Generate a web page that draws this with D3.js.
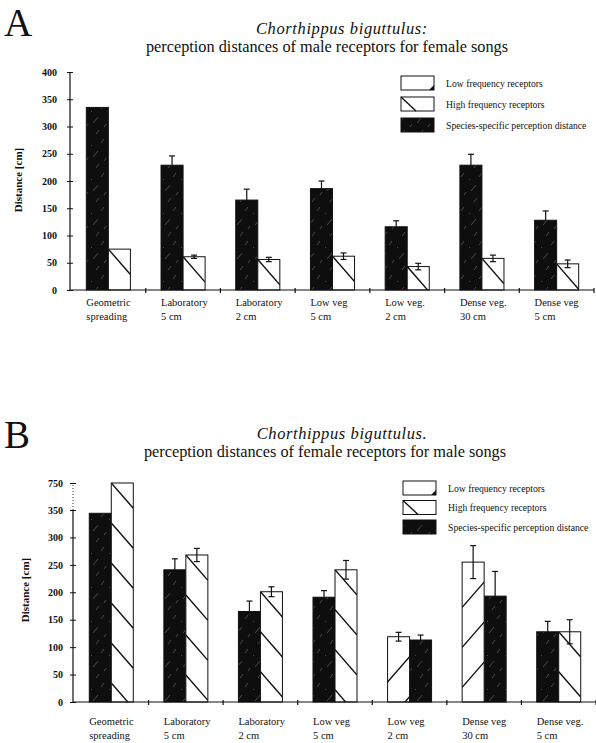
<!DOCTYPE html>
<html>
<head>
<meta charset="utf-8">
<script src="https://cdn.jsdelivr.net/npm/d3@7"></script>
<style>
  body { margin: 0; background: #fff; }
  text { font-family: "Liberation Serif", "Times New Roman", serif; fill: #111; }
</style>
</head>
<body>
<svg id="fig" width="596" height="743"></svg>
<script>
// ---- data ----
const catLine1A = ["Geometric", "Laboratory", "Laboratory", "Low veg", "Low veg.", "Dense veg.", "Dense veg"];
const catLine2A = ["spreading", "5 cm", "2 cm", "5 cm", "2 cm", "30 cm", "5 cm"];
const catLine1B = ["Geometric", "Laboratory", "Laboratory", "Low veg", "Low veg", "Dense veg", "Dense veg."];
const catLine2B = ["spreading", "5 cm", "2 cm", "5 cm", "2 cm", "30 cm", "5 cm"];

// A: male receptors, female songs
const speciesA    = [335, 229, 165, 186, 116, 229, 128];
const speciesErrA = [0, 17, 20, 14, 11, 20, 17];
const highA       = [75, 61, 56, 62, 43, 58, 48];
const highErrA    = [0, 3, 4, 6, 6, 6, 7];
const yTicksA     = [0, 50, 100, 150, 200, 250, 300, 350, 400];

// B: female receptors, male songs (axis broken between 350 and 750)
const speciesB    = [344, 241, 165, 191, 113, 193, 128];
const speciesErrB = [0, 20, 19, 12, 9, 45, 19];
const highB       = [750, 268, 201, 241, null, null, 128];
const highErrB    = [0, 12, 9, 17, null, null, 22];
const lowB        = [null, null, null, null, 119, 255, null];
const lowErrB     = [null, null, null, null, 8, 30, null];
const yTicksB     = [0, 50, 100, 150, 200, 250, 300, 350, 750];

const legendLabels = ["Low frequency receptors", "High frequency receptors", "Species-specific perception distance"];

const svg = d3.select("#fig");
const defs = svg.append("defs");

// speckled black fill for species-specific bars
let speck = defs.append("pattern")
    .attr("id", "speck")
    .attr("patternUnits", "userSpaceOnUse")
    .attr("width", 18)
    .attr("height", 34);
speck.append("rect").attr("width", 18).attr("height", 34).attr("fill", "#0e0e0e");
[[3, 21, 8, 15], [11, 7, 14, 3], [6, 32, 9, 28], [14, 25, 16, 22], [1, 10, 2, 9]].forEach(s => {
    speck.append("line")
        .attr("x1", s[0]).attr("y1", s[1]).attr("x2", s[2]).attr("y2", s[3])
        .attr("stroke", "#7a7a7a").attr("stroke-width", 0.8).attr("opacity", 0.7);
});

let clipId = 0;
const hatchStep = 40, hatchSlope = 1.15;

function hatch(g, x0, w, top, bottom, dir) {
    let id = "clip" + (clipId++);
    defs.append("clipPath").attr("id", id)
        .append("rect").attr("x", x0).attr("y", top).attr("width", w).attr("height", bottom - top);
    let hg = g.append("g").attr("clip-path", `url(#${id})`);
    for (let k = 0; k < 40; k++) {
        let yl, yr;
        if (dir === "down") { yl = top + k * hatchStep; yr = yl + w * hatchSlope; }
        else { yr = top + 20 + k * hatchStep; yl = yr + w * hatchSlope; }
        if (Math.min(yl, yr) > bottom) break;
        hg.append("line")
            .attr("x1", x0).attr("y1", yl).attr("x2", x0 + w).attr("y2", yr)
            .attr("stroke", "#111").attr("stroke-width", 1.4);
    }
}

function drawPanel(p) {
    let g = svg.append("g");

    let x = d3.scaleBand().domain(d3.range(p.species.length)).range(p.xRange);
    let y = d3.scaleLinear().domain(p.yDomain).range(p.yRange);
    let bw = x.bandwidth() * 0.295;
    let y0 = y(0);

    // panel letter + titles
    g.append("text").attr("x", 4).attr("y", p.letterY)
        .attr("font-size", "39px").text(p.letter);
    g.append("text").attr("x", p.titleX1).attr("y", p.titleY)
        .attr("text-anchor", "middle").attr("font-size", "16.5px")
        .attr("letter-spacing", "0.6px")
        .attr("font-style", "italic").text(p.title1);
    g.append("text").attr("x", p.titleX2).attr("y", p.titleY + 18)
        .attr("text-anchor", "middle").attr("font-size", "16.3px")
        .text(p.title2);

    // bars
    let bars = [];
    p.species.forEach((v, i) => {
        let c = x(i) + x.bandwidth() / 2;
        let hasLow = p.low && p.low[i] != null;
        bars.push({ kind: "species", v: v, e: p.speciesErr[i], x: hasLow ? c : c - bw });
        if (hasLow) bars.push({ kind: "low", v: p.low[i], e: p.lowErr[i], x: c - bw });
        else if (p.high[i] != null) bars.push({ kind: "high", v: p.high[i], e: p.highErr[i], x: c });
    });

    bars.forEach(b => {
        let top = y(b.v);
        g.append("rect")
            .attr("x", b.x).attr("y", top)
            .attr("width", bw).attr("height", y0 - top)
            .attr("fill", b.kind === "species" ? "url(#speck)" : "#fff")
            .attr("stroke", "#111").attr("stroke-width", 1);
        if (b.kind === "high") hatch(g, b.x, bw, top, y0, "down");
        if (b.kind === "low") hatch(g, b.x, bw, top, y0, "up");
    });

    // error bars
    bars.filter(b => b.e > 0).forEach(b => {
        let cx = b.x + bw / 2;
        let lo = b.kind === "species" ? b.v : b.v - b.e;
        g.append("line")
            .attr("x1", cx).attr("x2", cx)
            .attr("y1", y(lo)).attr("y2", y(b.v + b.e))
            .attr("stroke", "#111").attr("stroke-width", 1.2);
        g.append("line")
            .attr("x1", cx - 3).attr("x2", cx + 3)
            .attr("y1", y(b.v + b.e)).attr("y2", y(b.v + b.e))
            .attr("stroke", "#111").attr("stroke-width", 1.2);
        if (b.kind !== "species") {
            g.append("line")
                .attr("x1", cx - 3).attr("x2", cx + 3)
                .attr("y1", y(lo)).attr("y2", y(lo))
                .attr("stroke", "#111").attr("stroke-width", 1.2);
        }
    });

    // y axis
    let yAxis = g.append("g")
        .attr("transform", `translate(${p.axisX},0)`)
        .call(d3.axisLeft(y).tickValues(p.yTicks).tickSize(6).tickFormat(d3.format("d")));
    yAxis.select(".domain").remove();
    yAxis.selectAll(".tick line").attr("x1", 3).attr("x2", -3).attr("stroke", "#111");
    yAxis.selectAll(".tick text")
        .attr("x", p.tickLabelX)
        .attr("font-family", "Liberation Serif, serif")
        .attr("font-weight", "bold")
        .attr("font-size", "10px")
        .attr("fill", "#111");
    let yTop = y(p.yTicks[p.yTicks.length - 1]);
    let yBreak = p.breakAt != null ? y(p.breakAt) : yTop;
    g.append("line").attr("x1", p.axisX).attr("x2", p.axisX)
        .attr("y1", y0).attr("y2", yBreak).attr("stroke", "#111").attr("stroke-width", 1.2);
    if (p.breakAt != null) {
        g.append("line").attr("x1", p.axisX).attr("x2", p.axisX)
            .attr("y1", yBreak).attr("y2", yTop)
            .attr("stroke", "#333").attr("stroke-width", 1).attr("stroke-dasharray", "1,2");
    }

    // y title
    g.append("text")
        .attr("transform", `translate(${p.yTitleX},${p.yTitleY}) rotate(-90)`)
        .attr("text-anchor", "middle")
        .attr("font-size", "11px").attr("font-weight", "bold")
        .text("Distance [cm]");

    // x axis with ticks at the group boundaries
    g.append("line")
        .attr("x1", p.axisX).attr("x2", p.xRange[1])
        .attr("y1", y0).attr("y2", y0)
        .attr("stroke", "#111").attr("stroke-width", 1.2);
    d3.range(1, p.species.length + 1).forEach(i => {
        let bx = i < p.species.length ? x(i) : p.xRange[1];
        g.append("line").attr("x1", bx).attr("x2", bx)
            .attr("y1", y0 - 2).attr("y2", y0 + 3)
            .attr("stroke", "#111").attr("stroke-width", 1.2);
    });

    // category labels
    p.line1.forEach((t, i) => {
        let lx = x(i) + x.bandwidth() / 2 - bw;
        g.append("text").attr("x", lx).attr("y", y0 + p.labelDy)
            .attr("font-size", "10.5px").text(t);
        g.append("text").attr("x", lx).attr("y", y0 + p.labelDy + 13.5)
            .attr("font-size", "10.5px").text(p.line2[i]);
    });

    // legend
    let lg = g.append("g");
    legendLabels.forEach((t, i) => {
        let ly = p.legendY + i * p.legendStep;
        let bx = p.legendX, bwid = 33, bh = 14;
        lg.append("rect").attr("x", bx).attr("y", ly).attr("width", bwid).attr("height", bh)
            .attr("fill", i === 2 ? "url(#speck)" : "#fff")
            .attr("stroke", "#111").attr("stroke-width", 1);
        if (i === 0) {
            lg.append("path")
                .attr("d", `M${bx + bwid - 5},${ly + bh} L${bx + bwid},${ly + bh - 5} L${bx + bwid},${ly + bh} Z`)
                .attr("fill", "#111");
        }
        if (i === 1) {
            lg.append("line").attr("x1", bx).attr("y1", ly).attr("x2", bx + 15).attr("y2", ly + bh)
                .attr("stroke", "#111").attr("stroke-width", 1.4);
        }
        lg.append("text").attr("x", bx + 45).attr("y", ly + bh / 2 + 3.5)
            .attr("font-size", "9.7px").text(t);
    });
}

drawPanel({
    letter: "A", letterY: 36,
    title1: "Chorthippus biguttulus:", title2: "perception distances of male receptors for female songs",
    titleX1: 342, titleX2: 327, titleY: 34,
    species: speciesA, speciesErr: speciesErrA, high: highA, highErr: highErrA, low: null, lowErr: null,
    xRange: [71, 594], axisX: 70,
    yDomain: [0, 400], yRange: [290, 72], yTicks: yTicksA, breakAt: null, tickLabelX: -13,
    yTitleX: 22, yTitleY: 180,
    line1: catLine1A, line2: catLine2A, labelDy: 16,
    legendX: 401, legendY: 76, legendStep: 21
});

drawPanel({
    letter: "B", letterY: 448,
    title1: "Chorthippus biguttulus.", title2: "perception distances of female receptors for male songs",
    titleX1: 342, titleX2: 325, titleY: 439,
    species: speciesB, speciesErr: speciesErrB, high: highB, highErr: highErrB, low: lowB, lowErr: lowErrB,
    xRange: [74, 596], axisX: 73,
    yDomain: [0, 350, 750], yRange: [702, 510, 483], yTicks: yTicksB, breakAt: 350, tickLabelX: -10,
    yTitleX: 29, yTitleY: 590,
    line1: catLine1B, line2: catLine2B, labelDy: 23,
    legendX: 403, legendY: 481, legendStep: 19.5
});
</script>
</body>
</html>
